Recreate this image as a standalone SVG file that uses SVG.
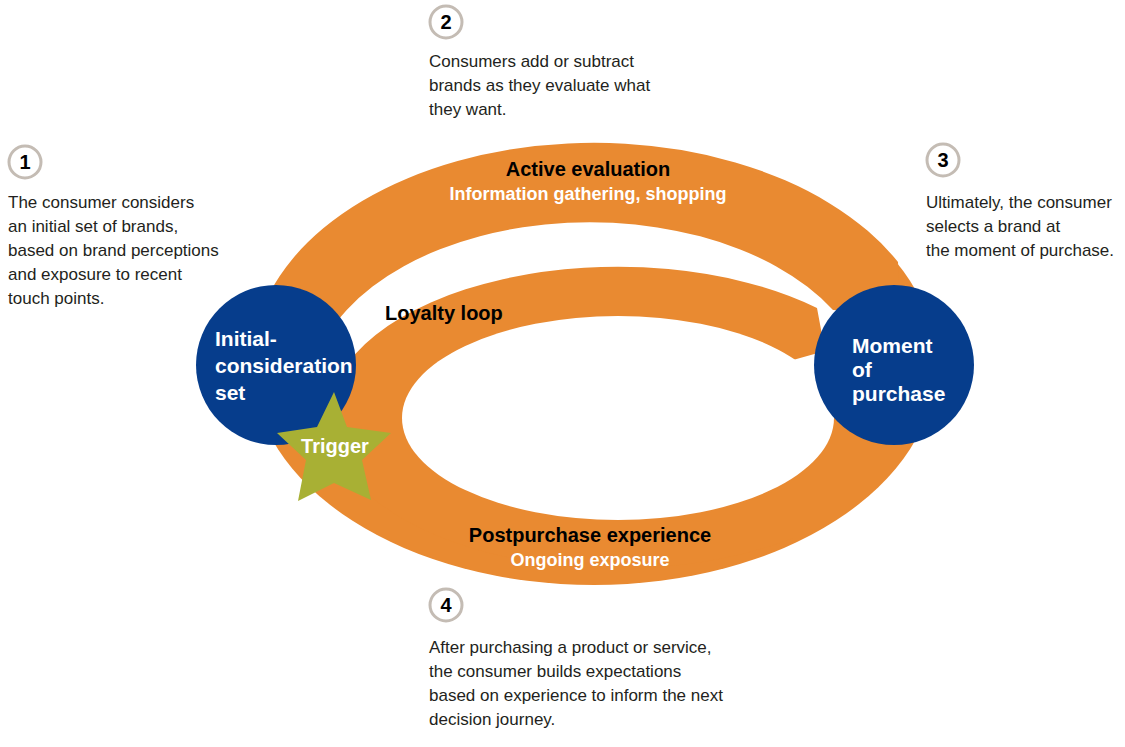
<svg xmlns="http://www.w3.org/2000/svg" width="1125" height="747" viewBox="0 0 1125 747">
<style>
.p{font-family:"Liberation Sans Narrow","Liberation Sans",Arial,sans-serif;font-size:17px;fill:#231f20}
.b{font-family:"Liberation Sans Narrow","Liberation Sans",Arial,sans-serif;font-weight:bold}
.num{fill:#fff;stroke:#c4bcb4;stroke-width:3}
.or{fill:#e98a31}
.bl{fill:#063d8c}
</style>
<defs><clipPath id="top"><rect x="0" y="0" width="1125" height="400"/></clipPath></defs>
<rect width="1125" height="747" fill="#fff"/>
<g id="ring">
<ellipse class="or" cx="594" cy="365" rx="342" ry="220"/>
<ellipse fill="#fff" cx="590" cy="390" rx="280" ry="174" clip-path="url(#top)"/>
<path class="or" d="M252 365 A342 220 0 0 1 898 262 L900 315 L833 310 A280 174 0 0 0 310 390 Z"/>
<path class="or" d="M328 418 A290 151 0 0 1 817 308 L825 351 L793 360 L793 538 A290 151 0 0 1 328 418 Z"/>
<ellipse fill="#fff" cx="618" cy="418" rx="216" ry="102"/>
</g>
<g id="labels-ring" class="b">
<text x="588" y="176" text-anchor="middle" font-size="20">Active evaluation</text>
<text x="588" y="200" text-anchor="middle" font-size="18" fill="#fff">Information gathering, shopping</text>
<text x="385" y="320" font-size="20">Loyalty loop</text>
<text x="590" y="542" text-anchor="middle" font-size="20">Postpurchase experience</text>
<text x="590" y="566" text-anchor="middle" font-size="18" fill="#fff">Ongoing exposure</text>
</g>
<g id="initial">
<circle class="bl" cx="276" cy="365" r="80"/>
<text class="b" font-size="21" fill="#fff"><tspan x="215" y="346">Initial-</tspan><tspan x="215" y="373">consideration</tspan><tspan x="215" y="400">set</tspan></text>
</g>
<g id="moment">
<circle class="bl" cx="894" cy="365" r="80"/>
<text class="b" font-size="21" fill="#fff"><tspan x="852" y="353">Moment</tspan><tspan x="852" y="377">of</tspan><tspan x="852" y="401">purchase</tspan></text>
</g>
<g id="trigger">
<polygon fill="#a8b034" points="334,392 347,427 391,433 362,460 371,500 334,483 298,501 306,460 277,433 317,427"/>
<text class="b" x="335" y="453" text-anchor="middle" font-size="20" fill="#fff">Trigger</text>
</g>
<g id="step1">
<circle class="num" cx="25" cy="162" r="16"/>
<text class="b" x="25" y="169" text-anchor="middle" font-size="20">1</text>
<text class="p"><tspan x="8" y="208">The consumer considers</tspan><tspan x="8" y="232">an initial set of brands,</tspan><tspan x="8" y="256">based on brand perceptions</tspan><tspan x="8" y="280">and exposure to recent</tspan><tspan x="8" y="304">touch points.</tspan></text>
</g>
<g id="step2">
<circle class="num" cx="446" cy="22" r="16"/>
<text class="b" x="446" y="29" text-anchor="middle" font-size="20">2</text>
<text class="p"><tspan x="429" y="67">Consumers add or subtract</tspan><tspan x="429" y="91">brands as they evaluate what</tspan><tspan x="429" y="115">they want.</tspan></text>
</g>
<g id="step3">
<circle class="num" cx="943" cy="160" r="16"/>
<text class="b" x="943" y="167" text-anchor="middle" font-size="20">3</text>
<text class="p"><tspan x="926" y="208">Ultimately, the consumer</tspan><tspan x="926" y="232">selects a brand at</tspan><tspan x="926" y="256">the moment of purchase.</tspan></text>
</g>
<g id="step4">
<circle class="num" cx="446" cy="605" r="16"/>
<text class="b" x="446" y="612" text-anchor="middle" font-size="20">4</text>
<text class="p"><tspan x="429" y="653">After purchasing a product or service,</tspan><tspan x="429" y="677">the consumer builds expectations</tspan><tspan x="429" y="701">based on experience to inform the next</tspan><tspan x="429" y="725">decision journey.</tspan></text>
</g>
</svg>
